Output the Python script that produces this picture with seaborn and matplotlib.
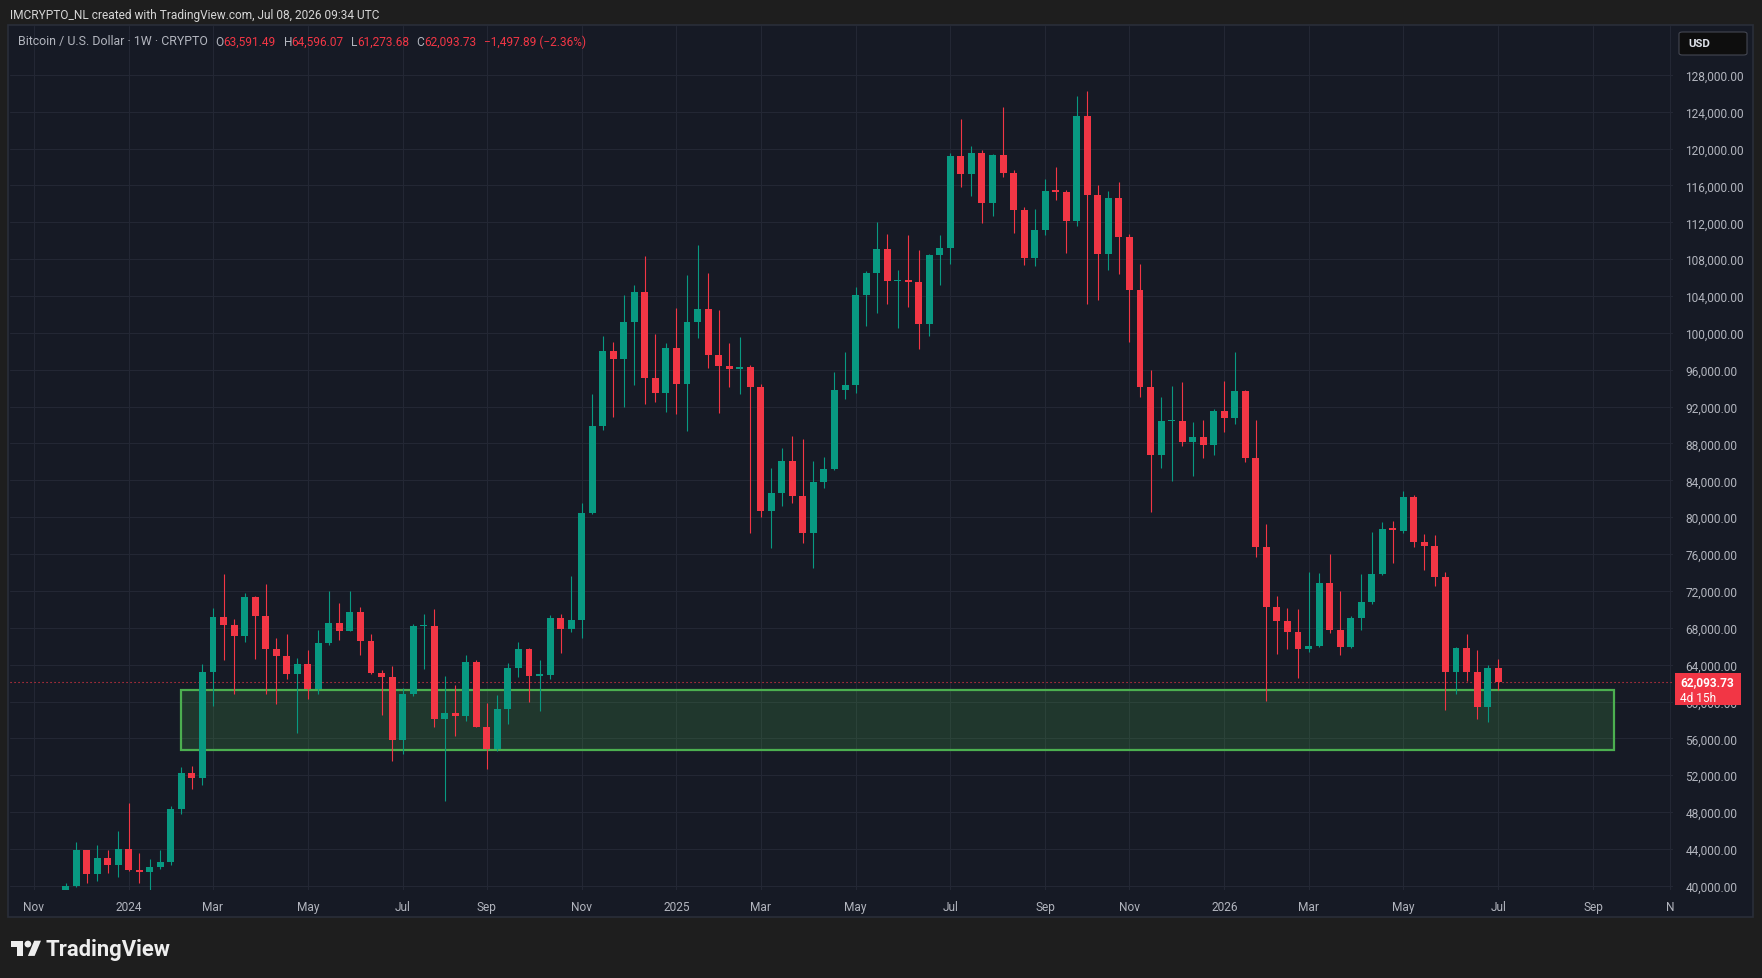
import numpy as np
import pandas as pd
import seaborn as sns
import matplotlib.pyplot as plt
from matplotlib.patches import Rectangle, FancyBboxPatch, Polygon, Circle

# weekly BTC / USD candles, first bar Nov 27 2023, last bar Jul 6 2026
first_week = "2023-11-27"
opens = [37450, 39970, 43890, 41320, 43020, 42300, 44000, 41750, 41500, 42040,
         42590, 48340, 52240, 51700, 63200, 69170, 68300, 67110, 71340, 69280,
         65700, 64940, 63020, 64070, 61390, 66350, 68520, 67650, 69710, 66570,
         63090, 62660, 55860, 60820, 68190, 68220, 58140, 58750, 58460, 64290,
         57270, 54880, 59190, 63640, 65700, 62810, 62900, 69060, 67900, 68840,
         80450, 89890, 98030, 97160, 101180, 104430, 95100, 93510, 98360, 94490,
         101180, 102590, 97600, 96400, 96080, 96250, 94160, 80690, 82620, 86090,
         82330, 78320, 83820, 85230, 93800, 94340, 104100, 106490, 109100, 105630,
         105700, 105520, 100960, 108450, 109210, 119190, 117240, 119520, 114090, 119300,
         117350, 113330, 108120, 111160, 115390, 115300, 112140, 123530, 114960, 108560,
         114630, 110400, 104650, 94130, 86750, 90440, 90460, 88160, 88700, 87830,
         91520, 90760, 93690, 86420, 76760, 70250, 68740, 67540, 65700, 66020,
         72860, 67760, 65910, 69060, 70800, 73840, 78720, 78500, 82190, 77310,
         76870, 73510, 63200, 65810, 63200, 59400, 63591.49]
highs = [40300, 44750, 43900, 44430, 43890, 45950, 48950, 43560, 42910, 43890,
         48660, 52890, 53000, 64070, 70150, 73840, 68950, 71780, 71400, 72750,
         66890, 67330, 64720, 65590, 67760, 71990, 70690, 71990, 70260, 67330,
         63420, 63850, 61470, 68410, 69500, 70040, 62770, 61790, 65050, 64500,
         59840, 60710, 64180, 66460, 65800, 64510, 69390, 69500, 73620, 81540,
         93370, 99660, 99010, 104110, 105190, 108340, 99880, 98900, 102700, 106280,
         109500, 106500, 102480, 98900, 99550, 96510, 94480, 85330, 87500, 88810,
         88480, 86090, 86530, 95750, 97920, 104970, 106710, 112030, 110730, 106820,
         110620, 108990, 108560, 110620, 119520, 123200, 120270, 119840, 119400, 124510,
         117670, 113660, 113440, 116690, 118000, 115500, 125700, 126240, 116040, 115390,
         116370, 110730, 107500, 95970, 93040, 94230, 94670, 90330, 90550, 91740,
         94780, 97920, 93800, 90550, 79260, 71450, 70150, 70040, 74050, 73940,
         76010, 71990, 69280, 73840, 78390, 79480, 79590, 82840, 82410, 78180,
         78070, 74050, 65900, 67330, 65590, 63960, 64596.07]
lows = [36700, 39900, 40340, 40520, 41430, 40990, 41610, 40340, 39550, 41830,
        42260, 47790, 50510, 50940, 59510, 64510, 60820, 66460, 64610, 60820,
        59770, 62440, 56580, 60310, 60850, 66130, 66680, 67600, 65050, 63000,
        58570, 53580, 54340, 60600, 63530, 57270, 49240, 56290, 57920, 57200,
        52710, 54670, 57600, 62700, 59980, 59010, 62480, 65300, 67580, 66930,
        80400, 89500, 90910, 91990, 94340, 92320, 92530, 91450, 91230, 89390,
        99480, 96190, 91340, 94160, 93400, 78320, 80050, 76690, 81250, 81570,
        77230, 74520, 83160, 85100, 92820, 93470, 100740, 102150, 103130, 100530,
        102800, 98250, 99660, 105190, 107470, 115830, 114850, 111920, 112680, 116910,
        110830, 107360, 107250, 110620, 114420, 108660, 111590, 103130, 103560, 106820,
        106390, 99010, 93040, 80560, 85340, 83930, 87720, 84470, 86420, 86750,
        89240, 90110, 85990, 75680, 60050, 65150, 65700, 62550, 65370, 65900,
        67430, 65050, 65800, 67760, 70580, 73700, 75030, 78280, 76770, 74270,
        72530, 59080, 60810, 62230, 58100, 57780, 61273.68]
closes = [39970, 43890, 41320, 43020, 42300, 44000, 41750, 41500, 42040, 42590,
          48340, 52240, 51700, 63200, 69170, 68300, 67110, 71340, 69280, 65700,
          64940, 63020, 64070, 61390, 66350, 68520, 67650, 69710, 66570, 63090,
          62660, 55860, 60820, 68190, 68220, 58140, 58750, 58460, 64290, 57270,
          54880, 59190, 63640, 65700, 62810, 62900, 69060, 67900, 68840, 80450,
          89890, 98030, 97160, 101180, 104430, 95100, 93510, 98360, 94490, 101180,
          102590, 97600, 96400, 96080, 96250, 94160, 80690, 82620, 86090, 82330,
          78320, 83820, 85230, 93800, 94340, 104100, 106490, 109100, 105630, 105700,
          105520, 100960, 108450, 109210, 119190, 117240, 119520, 114090, 119300, 117350,
          113330, 108120, 111160, 115390, 115300, 112140, 123530, 114960, 108560, 114630,
          110400, 104650, 94130, 86750, 90440, 90460, 88160, 88700, 87830, 91520,
          90760, 93690, 86420, 76760, 70250, 68740, 67540, 65700, 66020, 72860,
          67760, 65910, 69060, 70800, 73840, 78720, 78650, 82190, 77310, 76870,
          73510, 63200, 65810, 63200, 59400, 63591.62, 62093.73]

# highlighted support zone
zone_low = 54750
zone_high = 61300
zone_start = "2024-02-12"
zone_end = "2026-09-21"

last_price = 62093.73
price_ticks = list(range(40000, 128001, 4000))
month_starts = ["2023-11-01", "2024-01-01", "2024-03-01", "2024-05-01", "2024-07-01",
                "2024-09-01", "2024-11-01", "2025-01-01", "2025-03-01", "2025-05-01",
                "2025-07-01", "2025-09-01", "2025-11-01", "2026-01-01", "2026-03-01",
                "2026-05-01", "2026-07-01", "2026-09-01", "2026-11-01"]
month_labels = ["Nov", "2024", "Mar", "May", "Jul", "Sep", "Nov", "2025", "Mar", "May",
                "Jul", "Sep", "Nov", "2026", "Mar", "May", "Jul", "Sep", "N"]

W, H = 1762, 979
BG = "#161a25"
OUT = "#1e1e1e"
GREEN = "#089981"
RED = "#f23645"
TXT = "#b2b5be"
FS = 8.6

sns.set_theme(style="dark", rc={"axes.facecolor": BG, "figure.facecolor": OUT})
plt.rcParams["font.family"] = ["Roboto", "DejaVu Sans"]

start = pd.Timestamp(first_week)


def week_pos(d):
    return (pd.Timestamp(d) - start).days / 7.0


df = pd.DataFrame({"open": opens, "high": highs, "low": lows, "close": closes})
df["x"] = np.arange(len(df))
df["up"] = df["close"] >= df["open"]
df["color"] = np.where(df["up"], GREEN, RED)
df["bottom"] = df[["open", "close"]].min(axis=1)
df["height"] = (df["close"] - df["open"]).abs().clip(lower=160)

fig = plt.figure(figsize=(W / 100, H / 100), dpi=100, facecolor=OUT)


def fx(x):
    return x / W


def fy(y):
    return 1 - y / H


# chart panel
fig.add_artist(Rectangle((fx(8), fy(918)), 1745 / W, 892 / H, transform=fig.transFigure,
                         facecolor=BG, edgecolor="#2a2e39", lw=1.2, zorder=-5))

ax = fig.add_axes([fx(10), fy(891), 1663 / W, 864 / H])
ax.set_facecolor(BG)

# support zone
zx0, zx1 = week_pos(zone_start), week_pos(zone_end)
ax.add_patch(Rectangle((zx0, zone_low), zx1 - zx0, zone_high - zone_low,
                       facecolor="#4caf50", alpha=0.2, edgecolor="none", zorder=1))
ax.add_patch(Rectangle((zx0, zone_low), zx1 - zx0, zone_high - zone_low,
                       facecolor="none", edgecolor="#4caf50", lw=1.6, zorder=1.2))

# candles
ax.vlines(df["x"], df["low"], df["high"], colors=df["color"], lw=0.8, zorder=2)
ax.bar(df["x"], df["height"], bottom=df["bottom"], width=0.66, color=df["color"],
       linewidth=0, zorder=3)

ax.axhline(last_price, color=RED, ls=(0, (1, 2.6)), lw=0.8, zorder=1.5)

xmin, xmax = -5.27, 152.6
ax.set_xlim(xmin, xmax)
ax.set_ylim(39550, 133300)

pos = [week_pos(pd.Timestamp(m) + pd.offsets.Week(weekday=0)) for m in month_starts]
pos = [min(p, xmax - 0.3) for p in pos]
ax.set_xticks(pos)
ax.set_xticklabels(month_labels)
ax.set_yticks(price_ticks)
ax.set_yticklabels([f"{v:,.2f}" for v in price_ticks])
ax.yaxis.tick_right()
ax.tick_params(axis="y", length=0, pad=9, labelsize=FS, labelcolor=TXT)
ax.tick_params(axis="x", length=0, pad=7, labelsize=FS, labelcolor=TXT)
ax.grid(True, color="#232734", lw=0.8)
for s in ax.spines.values():
    s.set_visible(False)

# last price label
fig.add_artist(Rectangle((fx(1675), fy(706)), 66 / W, 32 / H, transform=fig.transFigure,
                         facecolor=RED, edgecolor="none", zorder=5))
fig.text(fx(1680), fy(683), f"{last_price:,.2f}", color="white", fontsize=FS,
         fontweight="bold", va="center", zorder=6)
fig.text(fx(1680), fy(698), "4d 15h", color="white", fontsize=FS, va="center", zorder=6)

# currency box
fig.add_artist(FancyBboxPatch((fx(1679), fy(56)), 68 / W, 23 / H, transform=fig.transFigure,
                              boxstyle="round,pad=0,rounding_size=0.002",
                              facecolor="#0e0e0e", edgecolor="#434651", lw=0.8, zorder=5))
fig.text(fx(1688), fy(44), "USD", color="#e0e3eb", fontsize=8.2, fontweight="bold",
         va="center", zorder=6)

# header
fig.text(fx(10), fy(15), "IMCRYPTO_NL created with TradingView.com, Jul 08, 2026 09:34 UTC",
         color="#d6d6d6", fontsize=FS, va="center")
legend_parts = [
    (18, "Bitcoin / U.S. Dollar · 1W · CRYPTO", TXT, 8.9),
    (215, "O", TXT, FS), (223, "63,591.49", RED, FS),
    (284, "H", TXT, FS), (291, "64,596.07", RED, FS),
    (351, "L", TXT, FS), (357, "61,273.68", RED, FS),
    (416, "C", TXT, FS), (424, "62,093.73", RED, FS),
    (484, "\u22121,497.89 (\u22122.36%)", RED, FS),
]
for x, s, c, size in legend_parts:
    fig.text(fx(x), fy(42), s, color=c, fontsize=size, va="center")

# TradingView logo
lax = fig.add_axes([fx(11), fy(962), 30.4 / W, 23.7 / H])
lax.set_xlim(0, 36)
lax.set_ylim(28, 0)
lax.axis("off")
logo_c = "#eeeeee"
lax.add_patch(Polygon([(0, 4), (14, 4), (14, 22), (7, 22), (7, 11), (0, 11)], closed=True,
                      facecolor=logo_c, edgecolor="none"))
lax.add_patch(Polygon([(20, 22), (27.5, 4), (35.5, 4), (28, 22)], closed=True,
                      facecolor=logo_c, edgecolor="none"))
lax.add_patch(Circle((20, 8), 4, facecolor=logo_c, edgecolor="none"))
fig.text(fx(46), fy(950), "TradingView", color=logo_c, fontsize=15.8, fontweight="bold",
         va="center")

fig.savefig("out.png", dpi=100, facecolor=OUT)
